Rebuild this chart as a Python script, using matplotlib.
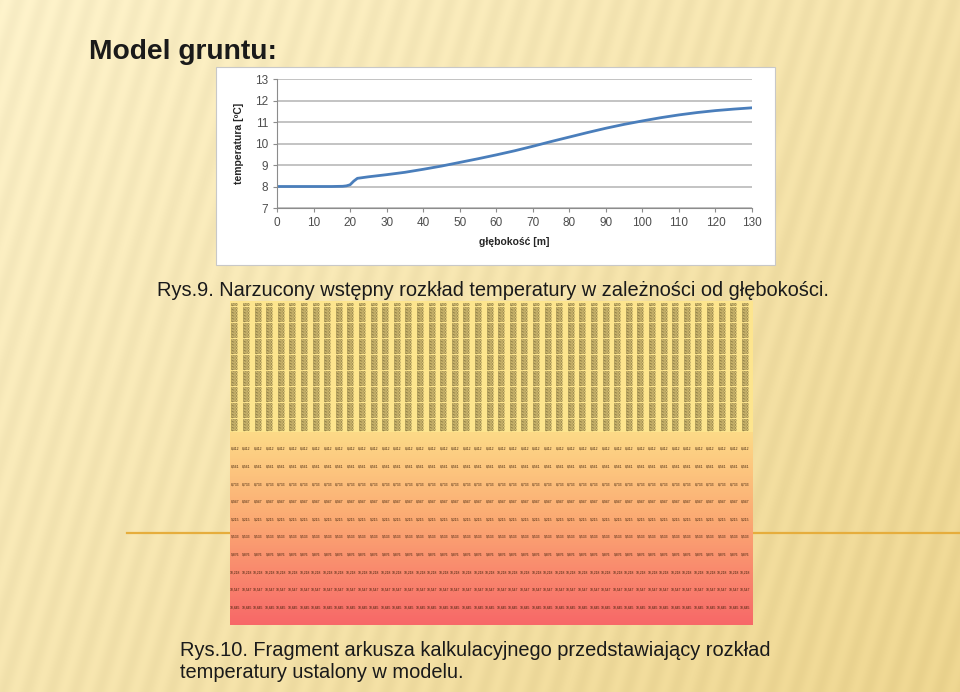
import numpy as np
import matplotlib.pyplot as plt
from matplotlib.patches import Rectangle

# ---------------- data ----------------
depth = [0, 5, 10, 15, 18, 19, 20, 21, 22, 25, 30, 35, 40, 45, 50, 55, 60, 65,
         70, 75, 80, 85, 90, 95, 100, 105, 110, 115, 120, 125, 130]
temp = [8.0, 8.0, 8.0, 8.0, 8.01, 8.03, 8.08, 8.25, 8.38, 8.45, 8.55, 8.66, 8.8,
        8.95, 9.12, 9.29, 9.47, 9.66, 9.87, 10.09, 10.3, 10.51, 10.71, 10.89,
        11.05, 11.2, 11.33, 11.44, 11.53, 11.6, 11.66]

x_ticks = [0, 10, 20, 30, 40, 50, 60, 70, 80, 90, 100, 110, 120, 130]
y_ticks = [7, 8, 9, 10, 11, 12, 13]

# spreadsheet fragment (values too small to read, approximated)
n_cols = 45
top_rows = ["8,000"] * 40
bottom_rows = ["8,412", "8,561", "8,733", "8,947", "9,215", "9,533",
               "9,876", "10,218", "10,547", "10,845"]

title = "Model gruntu:"
caption1 = "Rys.9. Narzucony wstępny rozkład temperatury w zależności od głębokości."
caption2 = "Rys.10. Fragment arkusza kalkulacyjnego przedstawiający rozkład\ntemperatury ustalony w modelu."

W, H = 960, 692
plt.rcParams["font.family"] = ["Liberation Sans", "DejaVu Sans"]
fig = plt.figure(figsize=(W / 100, H / 100), dpi=100)

# ---------------- slide background ----------------
bg = fig.add_axes([0, 0, 1, 1], zorder=0)
yy, xx = np.mgrid[0:H, 0:W].astype(float)
t = 0.55 * (xx / W) + 0.45 * (yy / H)
base_top = np.array([251, 240, 200]) / 255
base_bot = np.array([236, 212, 142]) / 255
img = base_top[None, None, :] * (1 - t[..., None]) + base_bot[None, None, :] * t[..., None]
stripe = np.sin(2 * np.pi * (xx + 0.3 * yy) / 24.0)
img = img + 0.014 * stripe[..., None]
img = np.clip(img, 0, 1)
bg.imshow(img, extent=[0, W, H, 0], aspect="auto")
bg.set_xlim(0, W)
bg.set_ylim(H, 0)
bg.axis("off")

bg.plot([127, W], [533, 533], color="#e6ad3c", lw=1.6)

bg.add_patch(Rectangle((216, 67), 559, 198, facecolor="white",
                       edgecolor="#c8c8c8", lw=0.8))

bg.text(89, 52, title, fontsize=20.3, fontweight="bold", color="#1a1a1a",
        va="center", ha="left")
bg.text(157, 291, caption1, fontsize=14.4, color="#1a1a1a", va="center",
        ha="left")
bg.text(180, 662, caption2, fontsize=14.4, color="#1a1a1a", va="center",
        ha="left", linespacing=1.2)

# ---------------- temperature chart ----------------
ax = fig.add_axes([277 / W, 1 - 208 / H, 475 / W, 129 / H], zorder=2)
ax.plot(depth, temp, color="#4a7ebb", lw=2)
ax.set_xlim(0, 130)
ax.set_ylim(7, 13)
ax.set_xticks(x_ticks)
ax.set_yticks(y_ticks)
ax.yaxis.grid(True, color="#b3b3b3", lw=1.1)
ax.set_axisbelow(True)
for s in ["top", "right"]:
    ax.spines[s].set_visible(False)
for s in ["left", "bottom"]:
    ax.spines[s].set_color("#8c8c8c")
ax.tick_params(colors="#8c8c8c", labelcolor="#4d4d4d", labelsize=8.5,
               length=3, width=0.8)
ax.set_xlabel("głębokość [m]", fontsize=7.5, fontweight="bold", color="#262626",
              labelpad=6)
ax.set_ylabel("temperatura [ºC]", fontsize=7.5, fontweight="bold", color="#262626",
              labelpad=8)
ax.patch.set_alpha(0)

# ---------------- spreadsheet fragment ----------------
sh = fig.add_axes([230 / W, 1 - 625 / H, 523 / W, 324 / H], zorder=1)
sh.set_xlim(0, 523)
sh.set_ylim(324, 0)
sh.axis("off")

top_h = 131
gy = np.linspace(0, 1, 200)
c0 = np.array([253, 218, 135]) / 255
c1 = np.array([251, 170, 115]) / 255
c2 = np.array([247, 104, 104]) / 255
grad = np.where(gy[:, None] < 0.45,
                c0 + (c1 - c0) * (gy[:, None] / 0.45),
                c1 + (c2 - c1) * ((gy[:, None] - 0.45) / 0.55))
sh.imshow(grad[:, None, :], extent=[0, 523, 324, top_h], aspect="auto")
sh.add_patch(Rectangle((0, 0), 523, top_h, facecolor="#fde58e", edgecolor="none"))

col_x = 5 + np.arange(n_cols) * 11.6
for i, val in enumerate(top_rows):
    y = 4 + i * 3.2
    for x in col_x:
        sh.text(x, y, val, fontsize=2.2, color="#2e2206", ha="center",
                va="center")
for i, val in enumerate(bottom_rows):
    y = 148 + i * 17.6
    for x in col_x:
        sh.text(x, y, val, fontsize=2.4, color="#3d200a", ha="center",
                va="center")

fig.savefig("out.png", dpi=100)
